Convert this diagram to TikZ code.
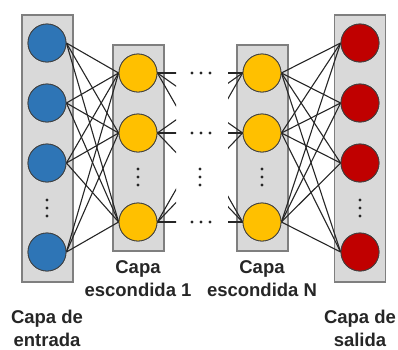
\documentclass[tikz,border=0pt]{standalone}
\usepackage{fontspec}
\setmainfont{Liberation Sans}
\definecolor{inblue}{HTML}{2E75B6}
\definecolor{hidyellow}{HTML}{FFC000}
\definecolor{outred}{HTML}{C00000}
\definecolor{boxgray}{HTML}{D9D9D9}
\definecolor{boxedge}{HTML}{7F7F7F}
\begin{document}
\begin{tikzpicture}[x=1pt,y=-1pt,
  layerbox/.style={draw=boxedge, fill=boxgray, line width=1.3pt, minimum width=51pt, inner sep=0pt},
  neuron/.style={circle, draw=black!75, line width=0.8pt, minimum size=38pt, inner sep=0pt},
  inn/.style={neuron, fill=inblue},
  hid/.style={neuron, fill=hidyellow},
  outn/.style={neuron, fill=outred},
  conn/.style={black!85, line width=1.1pt},
  lbl/.style={font=\bfseries\fontsize{18.5}{23}\selectfont, align=center, text=black!85},
  dotc/.style={fill=black!85}]
\useasboundingbox (0,0) rectangle (398,349);
% layer boxes
\node[layerbox, minimum height=267pt] (Lin) at (47.5,148.5) {};
\node[layerbox, minimum height=206pt] (Lh1) at (138.5,148) {};
\node[layerbox, minimum height=206pt] (LhN) at (262.5,148) {};
\node[layerbox, minimum height=267pt] (Lout) at (360,148.5) {};
% neuron positions
\coordinate (pi1) at (47,43);  \coordinate (pi2) at (47,103);
\coordinate (pi3) at (47,163); \coordinate (pi4) at (47,252);
\coordinate (pa1) at (138,73); \coordinate (pa2) at (138,133); \coordinate (pa3) at (138,222);
\coordinate (pb1) at (262,73); \coordinate (pb2) at (262,133); \coordinate (pb3) at (262,222);
\coordinate (po1) at (360,43);  \coordinate (po2) at (360,103);
\coordinate (po3) at (360,163); \coordinate (po4) at (360,252);
% neuron nodes (drawn later on top; define now)
\foreach \k in {1,...,4} {\node[inn] (i\k) at (pi\k) {}; \node[outn] (o\k) at (po\k) {};}
\foreach \k in {1,2,3} {\node[hid] (a\k) at (pa\k) {}; \node[hid] (b\k) at (pb\k) {};}
% connections
\foreach \i in {1,...,4} \foreach \j in {1,2,3} \draw[conn] (i\i.east) -- (a\j.west);
\foreach \i in {1,2,3} \foreach \j in {1,...,4} \draw[conn] (b\i.east) -- (o\j.west);
\begin{scope}
  \clip (150,0) rectangle (176,349);
  \foreach \i in {1,2,3} \foreach \j in {1,2,3} \draw[conn] (a\i.east) -- (b\j.west);
\end{scope}
\begin{scope}
  \clip (228,0) rectangle (250,349);
  \foreach \i in {1,2,3} \foreach \j in {1,2,3} \draw[conn] (a\i.east) -- (b\j.west);
\end{scope}
% redraw neurons on top
\foreach \k in {1,...,4} {\node[inn] at (pi\k) {}; \node[outn] at (po\k) {};}
\foreach \k in {1,2,3} {\node[hid] at (pa\k) {}; \node[hid] at (pb\k) {};}
% vertical dots
\foreach \x/\y in {47/208, 138/177, 200/177, 262/177, 360/208}
  \foreach \d in {-8,0,8} \fill[dotc] (\x,\y+\d) circle (1.6);
% horizontal dots
\foreach \y in {73,133,222}
  \foreach \d in {-9,0,9} \fill[dotc] (201+\d,\y) circle (1.6);
% labels
\node[lbl] (t1) at (138,279) {Capa\\escondida 1};
\node[lbl] (tN) at (262,279) {Capa\\escondida N};
\node[lbl] (tin) at (47,328) {Capa de\\entrada};
\node[lbl] (tout) at (360,328) {Capa de\\salida};
\end{tikzpicture}
\end{document}
